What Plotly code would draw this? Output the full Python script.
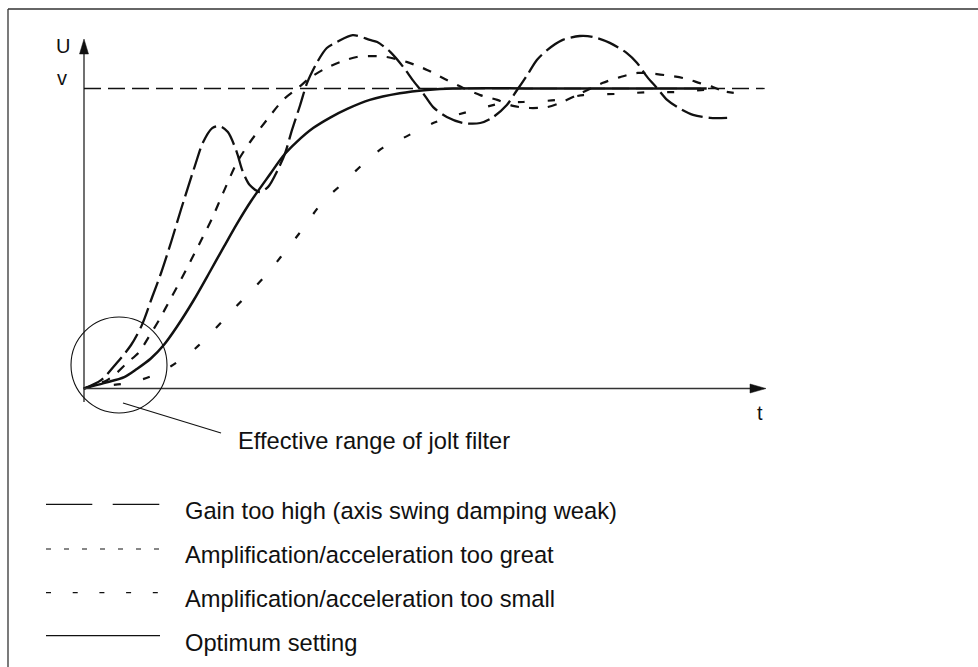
import plotly.graph_objects as go

# ---------------- data (t in time units, U normalised so that U = 1 is the set value v) ----------
t_gain = [0, 2.5, 4.8, 6.9, 8.5, 10.0, 11.3, 12.8, 14.2, 16.3, 17.4, 18.8, 19.9, 21.1, 22.4, 23.2,
          24.3, 25.8, 27.0, 28.4, 29.5, 30.5, 31.7, 32.7, 34.2, 35.6, 37.1, 39.4, 41.9, 43.0, 44.9,
          46.8, 48.2, 49.7, 51.2, 53.2, 55.6, 58.1, 60.0, 62.0, 63.5, 65.0, 66.4, 67.9, 70.2, 72.7,
          74.6, 77.1, 79.6, 81.1, 82.6, 84.0, 85.5, 87.0, 89.3, 91.8, 94.3]
u_gain = [0, 0.028, 0.085, 0.145, 0.212, 0.305, 0.385, 0.490, 0.595, 0.745, 0.818, 0.868, 0.875,
          0.855, 0.788, 0.728, 0.678, 0.655, 0.672, 0.728, 0.785, 0.862, 0.945, 1.018, 1.088, 1.135,
          1.155, 1.178, 1.162, 1.155, 1.122, 1.072, 1.028, 0.985, 0.938, 0.905, 0.885, 0.885, 0.905,
          0.945, 0.995, 1.045, 1.095, 1.128, 1.162, 1.175, 1.172, 1.152, 1.118, 1.085, 1.038, 1.002,
          0.962, 0.938, 0.912, 0.902, 0.902]

t_great = [0, 1.5, 3.4, 4.8, 6.3, 8.1, 9.5, 11.0, 12.6, 14.2, 15.7, 17.2, 18.8, 20.4, 22.4, 24.3,
           26.8, 29.2, 31.4, 33.1, 35.0, 37.5, 40.0, 42.0, 44.4, 47.4, 50.3, 53.2, 55.6, 58.1, 60.6,
           62.9, 65.4, 67.9, 69.8, 72.3, 76.0, 78.6, 81.2, 84.0, 87.8, 90.3, 92.2, 93.3]
u_great = [0, 0.012, 0.028, 0.052, 0.085, 0.122, 0.172, 0.228, 0.295, 0.362, 0.428, 0.495, 0.568,
           0.652, 0.752, 0.820, 0.895, 0.962, 1.002, 1.035, 1.062, 1.088, 1.105, 1.108, 1.105, 1.088,
           1.062, 1.028, 1.002, 0.978, 0.962, 0.942, 0.935, 0.938, 0.952, 0.978, 1.018, 1.038, 1.052,
           1.048, 1.035, 1.018, 1.005, 0.995]

t_small = [0, 1.0, 5.6, 7.8, 10.6, 12.8, 16.4, 20.2, 23.5, 26.7, 28.9, 31.5, 35.0, 38.0, 40.9, 43.8,
           46.8, 51.2, 54.7, 58.4, 61.4, 64.4, 69.4, 73.2, 78.2, 83.0, 87.4, 91.1, 95.5]
u_small = [0, 0.005, 0.015, 0.025, 0.048, 0.075, 0.135, 0.222, 0.302, 0.378, 0.440, 0.515, 0.622,
           0.685, 0.748, 0.802, 0.835, 0.885, 0.912, 0.935, 0.952, 0.955, 0.962, 0.978, 0.982, 0.988,
           0.988, 0.995, 0.985]

t_opt = [0, 2.9, 5.9, 7.8, 9.8, 11.7, 13.6, 16.1, 18.6, 20.5, 22.4, 24.5, 27.3, 29.2, 31.2, 33.6,
         36.1, 38.6, 41.9, 46.3, 50.3, 54.1, 70.0, 91.3]
u_opt = [0, 0.018, 0.038, 0.066, 0.100, 0.145, 0.205, 0.295, 0.395, 0.472, 0.548, 0.625, 0.715,
         0.775, 0.822, 0.868, 0.903, 0.932, 0.962, 0.984, 0.995, 1.0, 1.0, 1.0]

v_level = 1.0
t_ref_end = 99.8

legend_labels = ["Gain too high (axis swing damping weak)",
                 "Amplification/acceleration too great",
                 "Amplification/acceleration too small",
                 "Optimum setting"]
axis_labels = {"U": "U", "v": "v", "t": "t"}
note_text = "Effective range of jolt filter"

# ---------------- layout helpers (page pixels -> data units) ----------------
W, H = 978, 667
X0_PX, T_SCALE = 84.0, 6.82
Y0_PX, U_SCALE = 388.5, 300.0


def tx(px):
    return (px - X0_PX) / T_SCALE


def uy(py):
    return (Y0_PX - py) / U_SCALE


FONT = "Liberation Sans, Arial, Helvetica, sans-serif"
INK = "#111111"

fig = go.Figure()

# reference (set value) line
fig.add_trace(go.Scatter(x=[0, t_ref_end], y=[v_level, v_level], mode="lines",
                         line=dict(color=INK, width=1.3, dash="17px,7px"), hoverinfo="skip"))

series = [
    (t_small, u_small, dict(color=INK, width=2.2, dash="7px,23px")),
    (t_great, u_great, dict(color=INK, width=2.2, dash="9px,10px")),
    (t_gain, u_gain, dict(color=INK, width=2.3, dash="22px,6px")),
    (t_opt, u_opt, dict(color=INK, width=2.5)),
]
for tt, uu, ln in series:
    fig.add_trace(go.Scatter(x=tt, y=uu, mode="lines", line=dict(shape="spline", smoothing=0.8, **ln),
                             hoverinfo="skip"))

shapes = []
# frame (top & left)
shapes.append(dict(type="line", xref="x", yref="y", x0=tx(8), x1=tx(978), y0=uy(9), y1=uy(9),
                   line=dict(color="#333", width=1.3)))
shapes.append(dict(type="line", xref="x", yref="y", x0=tx(8), x1=tx(8), y0=uy(9), y1=uy(667),
                   line=dict(color="#333", width=1.3)))
# axes
shapes.append(dict(type="line", xref="x", yref="y", x0=tx(84), x1=tx(84), y0=uy(402), y1=uy(50),
                   line=dict(color=INK, width=1.2)))
shapes.append(dict(type="line", xref="x", yref="y", x0=tx(83), x1=tx(755), y0=0, y1=0,
                   line=dict(color="#333", width=1.4)))
# arrow heads
shapes.append(dict(type="path", xref="x", yref="y",
                   path=f"M {tx(84)} {uy(39)} L {tx(79.5)} {uy(54)} L {tx(88.5)} {uy(54)} Z",
                   fillcolor=INK, line=dict(color=INK, width=0.5)))
shapes.append(dict(type="path", xref="x", yref="y",
                   path=f"M {tx(766)} {uy(388.5)} L {tx(750)} {uy(384)} L {tx(750)} {uy(393)} Z",
                   fillcolor=INK, line=dict(color=INK, width=0.5)))
# jolt filter circle and leader
shapes.append(dict(type="circle", xref="x", yref="y", x0=tx(71), x1=tx(167), y0=uy(317), y1=uy(413),
                   line=dict(color=INK, width=1.1)))
shapes.append(dict(type="line", xref="x", yref="y", x0=tx(123), x1=tx(221), y0=uy(403), y1=uy(433),
                   line=dict(color=INK, width=1.1)))
# legend samples
LEG_Y = [504.3, 549, 592.7, 635.7]
shapes.append(dict(type="line", xref="x", yref="y", x0=tx(46), x1=tx(92.3), y0=uy(LEG_Y[0]), y1=uy(LEG_Y[0]),
                   line=dict(color=INK, width=1.2)))
shapes.append(dict(type="line", xref="x", yref="y", x0=tx(112.7), x1=tx(159.3), y0=uy(LEG_Y[0]), y1=uy(LEG_Y[0]),
                   line=dict(color=INK, width=1.2)))
shapes.append(dict(type="line", xref="x", yref="y", x0=tx(46), x1=tx(160), y0=uy(LEG_Y[1]), y1=uy(LEG_Y[1]),
                   line=dict(color=INK, width=1.2, dash="5px,13px")))
shapes.append(dict(type="line", xref="x", yref="y", x0=tx(46), x1=tx(160), y0=uy(LEG_Y[2]), y1=uy(LEG_Y[2]),
                   line=dict(color=INK, width=1.2, dash="5px,21.7px")))
shapes.append(dict(type="line", xref="x", yref="y", x0=tx(46), x1=tx(160), y0=uy(LEG_Y[3]), y1=uy(LEG_Y[3]),
                   line=dict(color=INK, width=1.2)))

annotations = []
TEXT_Y = [511, 555, 599, 642.5]
for lab, yy in zip(legend_labels, TEXT_Y):
    annotations.append(dict(x=tx(183), y=uy(yy), xref="x", yref="y", text=lab, showarrow=False,
                            xanchor="left", yanchor="middle",
                            font=dict(family=FONT, size=23.7, color=INK)))
annotations.append(dict(x=tx(236), y=uy(440.5), xref="x", yref="y", text=note_text, showarrow=False,
                        xanchor="left", yanchor="middle", font=dict(family=FONT, size=23.7, color=INK)))
annotations.append(dict(x=tx(62.5), y=uy(46), xref="x", yref="y", text=axis_labels["U"], showarrow=False,
                        xanchor="center", yanchor="middle", font=dict(family=FONT, size=20, color=INK)))
annotations.append(dict(x=tx(62), y=uy(78), xref="x", yref="y", text=axis_labels["v"], showarrow=False,
                        xanchor="center", yanchor="middle", font=dict(family=FONT, size=20, color=INK)))
annotations.append(dict(x=tx(760), y=uy(413), xref="x", yref="y", text=axis_labels["t"], showarrow=False,
                        xanchor="center", yanchor="middle", font=dict(family=FONT, size=20, color=INK)))

fig.update_layout(
    width=W, height=H, autosize=False,
    margin=dict(l=0, r=0, t=0, b=0, pad=0),
    paper_bgcolor="white", plot_bgcolor="white",
    showlegend=False,
    xaxis=dict(visible=False, range=[tx(0), tx(W)], fixedrange=True),
    yaxis=dict(visible=False, range=[uy(H), uy(0)], fixedrange=True),
    shapes=shapes, annotations=annotations,
)

fig.write_html("out.html", config={"displayModeBar": False},
               post_script="document.body.style.margin='0';document.body.style.overflow='hidden';")
